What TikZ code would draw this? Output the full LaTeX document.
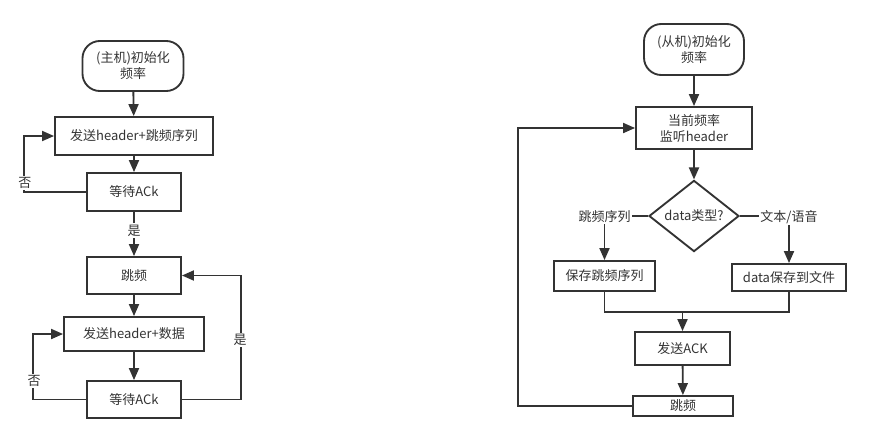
\documentclass[tikz,border=0pt]{standalone}
\usepackage{fontspec}
\setmainfont{Noto Sans CJK SC}
\usetikzlibrary{shapes.geometric, arrows.meta}
\definecolor{ink}{HTML}{333333}

\begin{document}
\begin{tikzpicture}[
      x=0.75pt, y=-0.75pt,
      every node/.style={text=ink, font=\fontsize{9.75pt}{12pt}\selectfont, inner sep=0pt},
      every path/.style={draw=ink, line width=1.4pt},
      stepbox/.style={draw, rectangle, minimum width=#1, align=center},
      termbox/.style={draw, rectangle, rounded corners=13pt, minimum width=#1, align=center},
      choice/.style={draw, diamond, minimum width=67.5pt, minimum height=52.5pt},
      lbl/.style={fill=white, inner sep=1pt},
      arr/.style={-{Triangle[length=9pt, width=7.5pt]}}
    ]
    \useasboundingbox[draw=none] (0,0) rectangle (871,443);
    \node[termbox=75.75pt, minimum height=37.5pt] (m0) at (133,66) {(主机)初始化\\频率};
    \node[stepbox=118.5pt, minimum height=28.5pt] (m1) at (134,136) {发送header+跳频序列};
    \node[stepbox=70.5pt, minimum height=28.5pt] (m2) at (134,192) {等待ACk};
    \node[stepbox=70.5pt, minimum height=27.75pt] (m3) at (134,275.5) {跳频};
    \node[stepbox=105pt, minimum height=25.5pt] (m4) at (134,334) {发送header+数据};
    \node[stepbox=70.5pt, minimum height=27.75pt] (m5) at (134,399.5) {等待ACk};
    \draw[arr] (m0) -- (m1);
    \draw[arr] (m1) -- (m2);
    \draw[arr] (m2) -- node[lbl, pos=0.42] (m2yes) {是} (m3);
    \draw[arr] (m3) -- (m4);
    \draw[arr] (m4) -- (m5);
    \draw[arr] (m2.west) -- ++(-62,0) |- (m1.west);
    \node[lbl] (m2no) at (25,183) {否};
    \draw[arr] (m5.west) -- ++(-53,0) |- (m4.west);
    \node[lbl] (m5no) at (34,381) {否};
    \draw[arr] (m5.east) -- ++(59,0) |- (m3.east);
    \node[lbl] (m5yes) at (240,340) {是};

    \node[termbox=75pt, minimum height=38.25pt] (s0) at (694,49.5) {(从机)初始化\\频率};
    \node[stepbox=87pt, minimum height=31.5pt] (s1) at (694,128) {当前频率\\监听header};
    \node[choice] (s2) at (694,216) {data类型?};
    \node[stepbox=75.75pt, minimum height=22.5pt] (s3) at (604.5,276) {保存跳频序列};
    \node[stepbox=85.5pt, minimum height=20.25pt] (s4) at (789,277.5) {data保存到文件};
    \node[stepbox=71.25pt, minimum height=24.75pt] (s5) at (682.5,348.5) {发送ACK};
    \node[stepbox=75pt, minimum height=15pt] (s6) at (683,406) {跳频};
    \coordinate (sj) at (682.5,311);
    \draw[arr] (s0) -- (s1);
    \draw[arr] (s1) -- (s2);
    \draw[arr] (s2.west) -| (s3.north);
    \node[lbl] (s2left) at (604.5,217) {跳频序列};
    \draw[arr] (s2.east) -| (s4.north);
    \node[lbl] (s2right) at (789,217) {文本/语音};
    \draw (s3.south) -- ++(0,20) -| (s4.south);
    \draw[arr] (sj) -- (s5);
    \draw[arr] (s5) -- (s6);
    \draw[arr] (s6.west) -- ++(-114,0) |- (s1.west);
\end{tikzpicture}
\end{document}
